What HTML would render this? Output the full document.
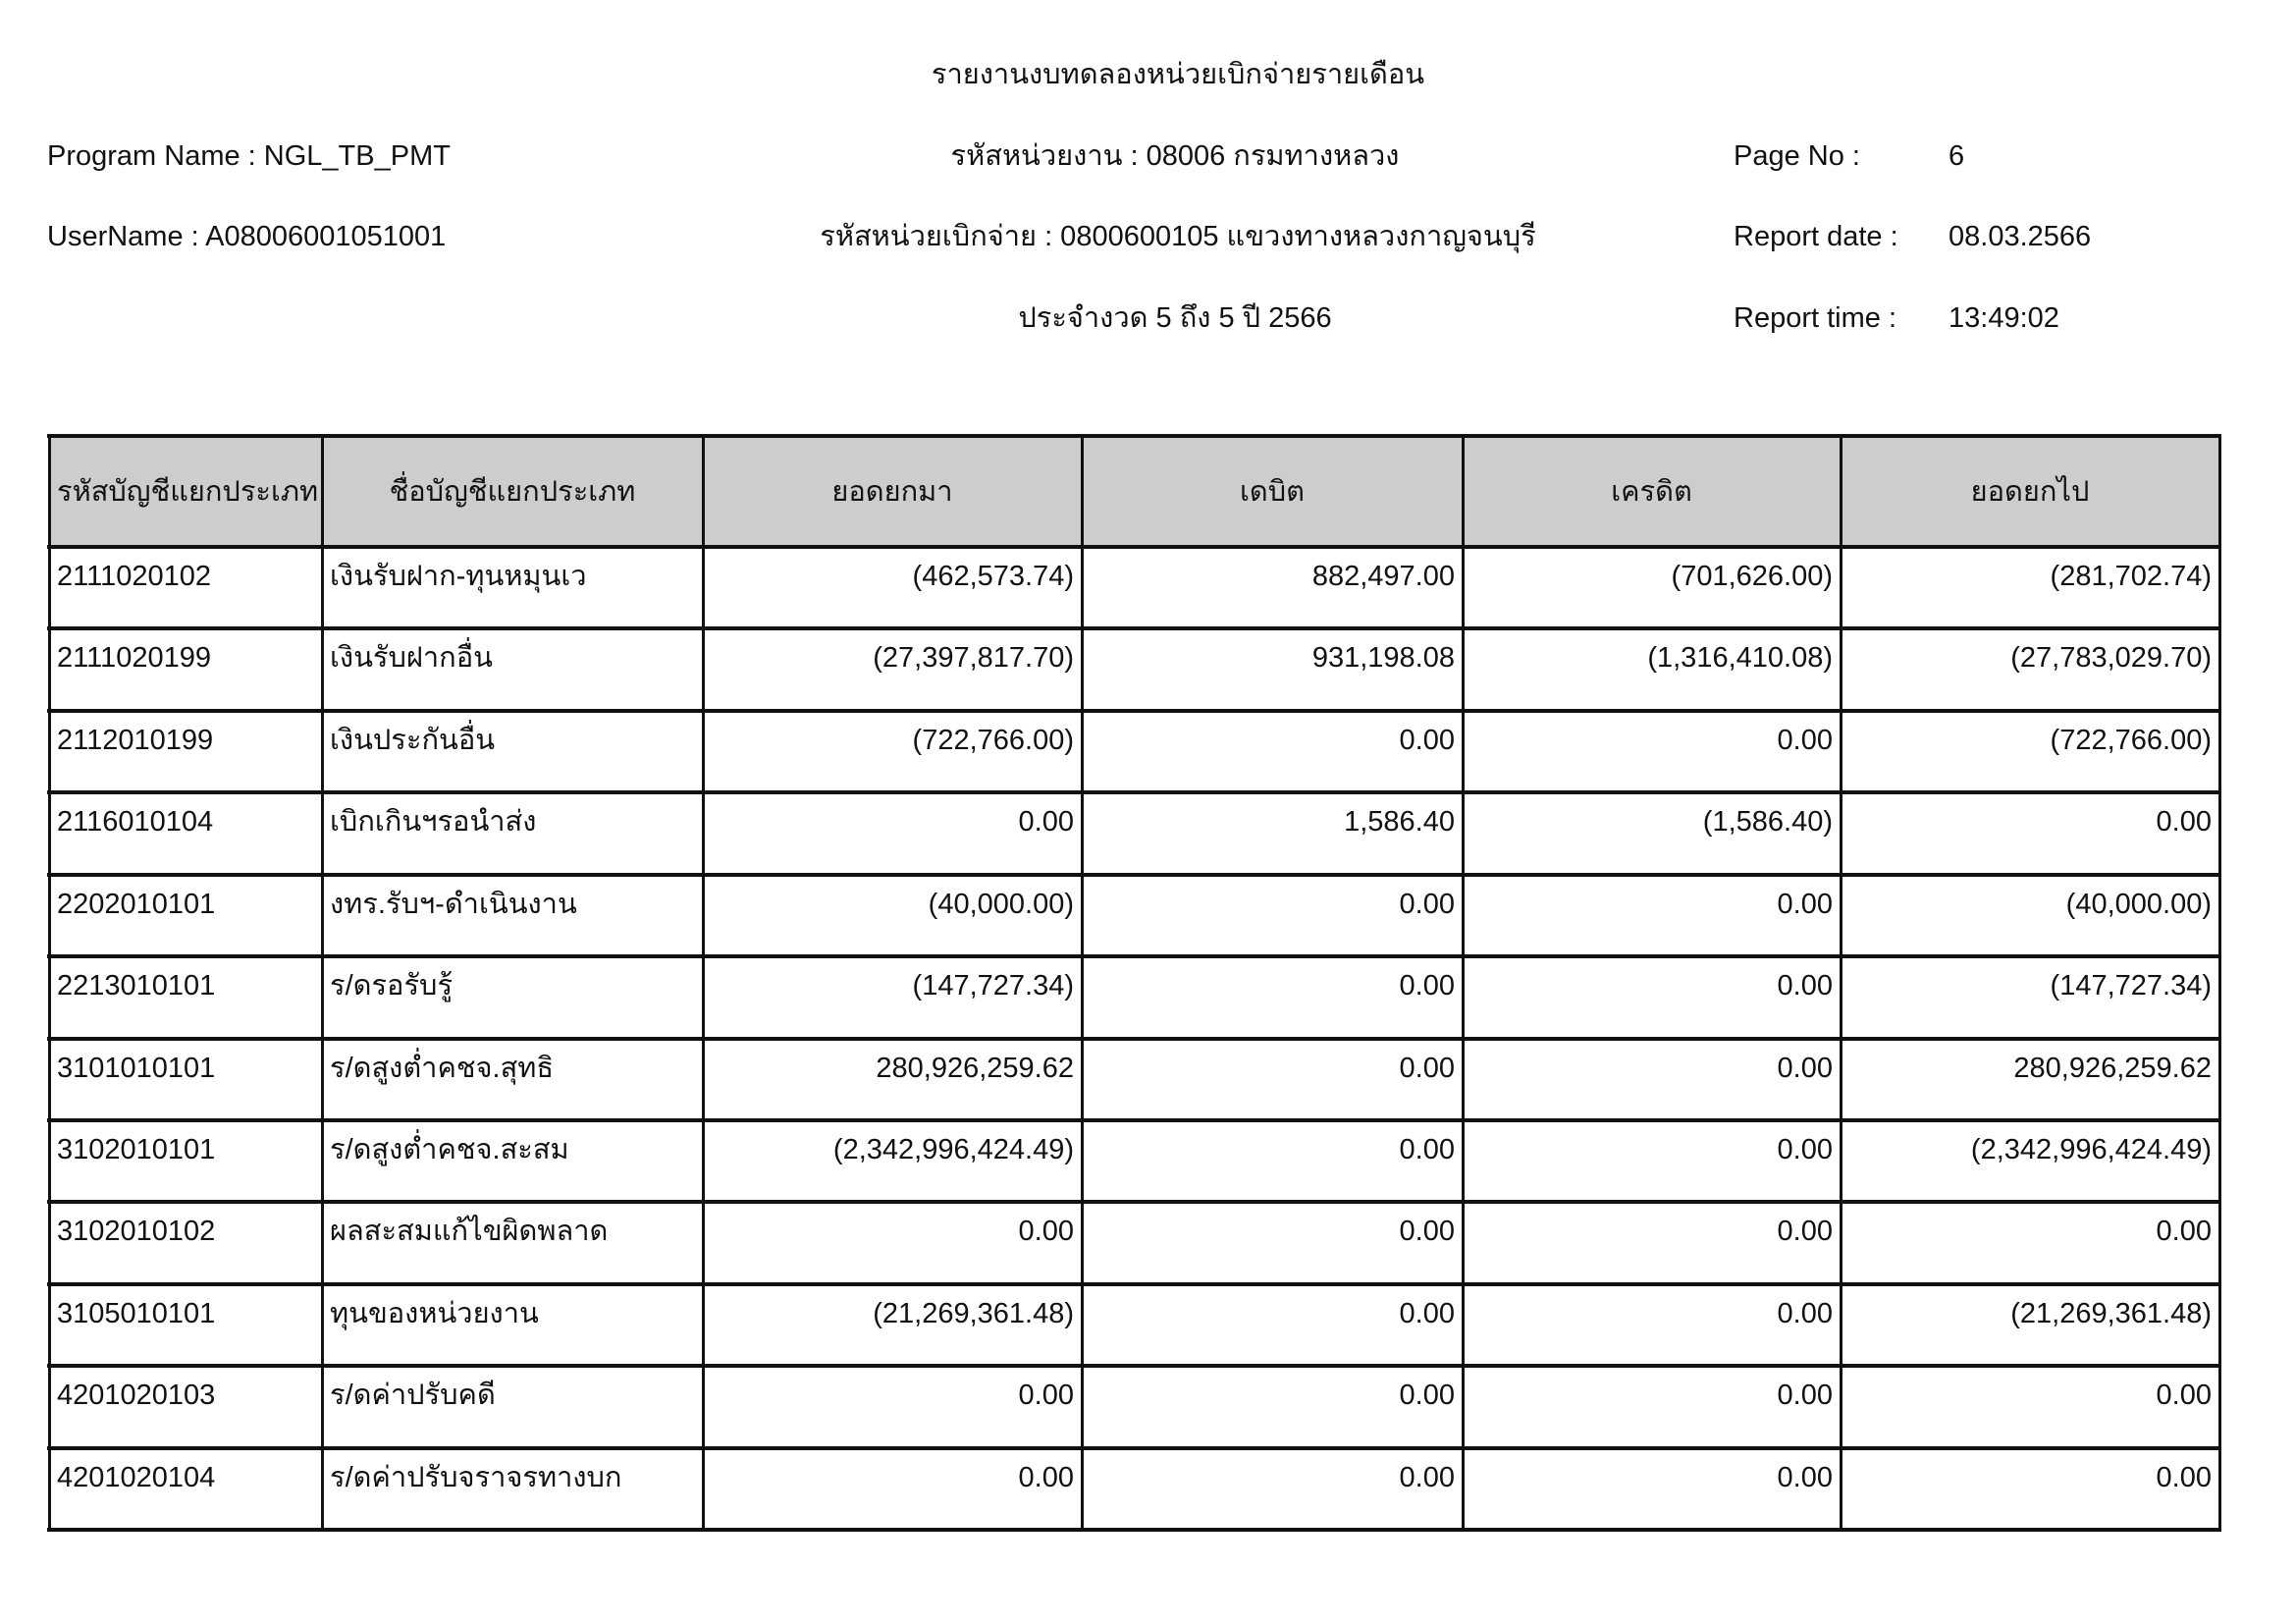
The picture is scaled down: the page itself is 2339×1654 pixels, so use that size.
<!DOCTYPE html>
<html><head><meta charset="utf-8">
<style>
html,body{margin:0;padding:0;background:#fff;}
body{width:2339px;height:1654px;position:relative;overflow:hidden;font-family:"Liberation Sans","Noto Sans CJK SC",sans-serif;color:#111;font-size:29px;}
.t{position:absolute;line-height:40px;white-space:nowrap;}
.c{transform:translateX(-50%);}
.hl{position:absolute;background:#111;}
.hdr{position:absolute;left:50px;top:443px;width:2211px;height:114px;background:#cdcdcd;}
.cell{position:absolute;line-height:40px;white-space:nowrap;}
</style></head><body>
<div class="t c" style="left:1200px;top:56px;">รายงานงบทดลองหน่วยเบิกจ่ายรายเดือน</div>
<div class="t" style="left:48px;top:139px;">Program Name : NGL_TB_PMT</div>
<div class="t c" style="left:1197px;top:139px;">รหัสหน่วยงาน : 08006 กรมทางหลวง</div>
<div class="t" style="left:1766px;top:139px;">Page No :</div>
<div class="t" style="left:1985px;top:139px;">6</div>
<div class="t" style="left:48px;top:221px;">UserName : A08006001051001</div>
<div class="t c" style="left:1200px;top:221px;">รหัสหน่วยเบิกจ่าย : 0800600105 แขวงทางหลวงกาญจนบุรี</div>
<div class="t" style="left:1766px;top:221px;">Report date :</div>
<div class="t" style="left:1985px;top:221px;">08.03.2566</div>
<div class="t c" style="left:1197px;top:304px;">ประจำงวด 5 ถึง 5 ปี 2566</div>
<div class="t" style="left:1766px;top:304px;">Report time :</div>
<div class="t" style="left:1985px;top:304px;">13:49:02</div>

<div class="hdr"></div>
<div id="tbl"></div>
<script>
var cols=[50,328,716,1102,1490,1875,2261];
var top0=443,hb=557,rh=83.42;
var heads=["รหัสบัญชีแยกประเภท","ชื่อบัญชีแยกประเภท","ยอดยกมา","เดบิต","เครดิต","ยอดยกไป"];
var rows=[
["2111020102","เงินรับฝาก-ทุนหมุนเว","(462,573.74)","882,497.00","(701,626.00)","(281,702.74)"],
["2111020199","เงินรับฝากอื่น","(27,397,817.70)","931,198.08","(1,316,410.08)","(27,783,029.70)"],
["2112010199","เงินประกันอื่น","(722,766.00)","0.00","0.00","(722,766.00)"],
["2116010104","เบิกเกินฯรอนำส่ง","0.00","1,586.40","(1,586.40)","0.00"],
["2202010101","งทร.รับฯ-ดำเนินงาน","(40,000.00)","0.00","0.00","(40,000.00)"],
["2213010101","ร/ดรอรับรู้","(147,727.34)","0.00","0.00","(147,727.34)"],
["3101010101","ร/ดสูงต่ำคชจ.สุทธิ","280,926,259.62","0.00","0.00","280,926,259.62"],
["3102010101","ร/ดสูงต่ำคชจ.สะสม","(2,342,996,424.49)","0.00","0.00","(2,342,996,424.49)"],
["3102010102","ผลสะสมแก้ไขผิดพลาด","0.00","0.00","0.00","0.00"],
["3105010101","ทุนของหน่วยงาน","(21,269,361.48)","0.00","0.00","(21,269,361.48)"],
["4201020103","ร/ดค่าปรับคดี","0.00","0.00","0.00","0.00"],
["4201020104","ร/ดค่าปรับจราจรทางบก","0.00","0.00","0.00","0.00"]];
var h="";
var bottom=hb+12*rh;
for(var i=0;i<cols.length;i++){h+='<div class="hl" style="left:'+(cols[i]-1)+'px;top:'+top0+'px;width:3px;height:'+(bottom-top0+2)+'px"></div>';}
h+='<div class="hl" style="left:48px;top:'+(top0-1)+'px;width:2215px;height:4px"></div>';
for(var r=0;r<=12;r++){var y=Math.round(hb+r*rh);h+='<div class="hl" style="left:48px;top:'+(y-2)+'px;width:2215px;height:4px"></div>';}
for(var c=0;c<6;c++){
 if(c==0) h+='<div class="cell" style="left:'+(cols[0]+8)+'px;top:'+(top0+38)+'px">'+heads[c]+'</div>';
 else h+='<div class="cell" style="left:'+cols[c]+'px;width:'+(cols[c+1]-cols[c])+'px;text-align:center;top:'+(top0+38)+'px">'+heads[c]+'</div>';
}
for(var r=0;r<12;r++){
 var y=Math.round(hb+r*rh)+10;
 for(var c=0;c<6;c++){
  if(c<2) h+='<div class="cell" style="left:'+(cols[c]+8)+'px;top:'+y+'px">'+rows[r][c]+'</div>';
  else h+='<div class="cell" style="left:'+cols[c]+'px;width:'+(cols[c+1]-cols[c]-8)+'px;text-align:right;top:'+y+'px">'+rows[r][c]+'</div>';
 }
}
document.getElementById('tbl').innerHTML=h;
</script>
</body></html>
